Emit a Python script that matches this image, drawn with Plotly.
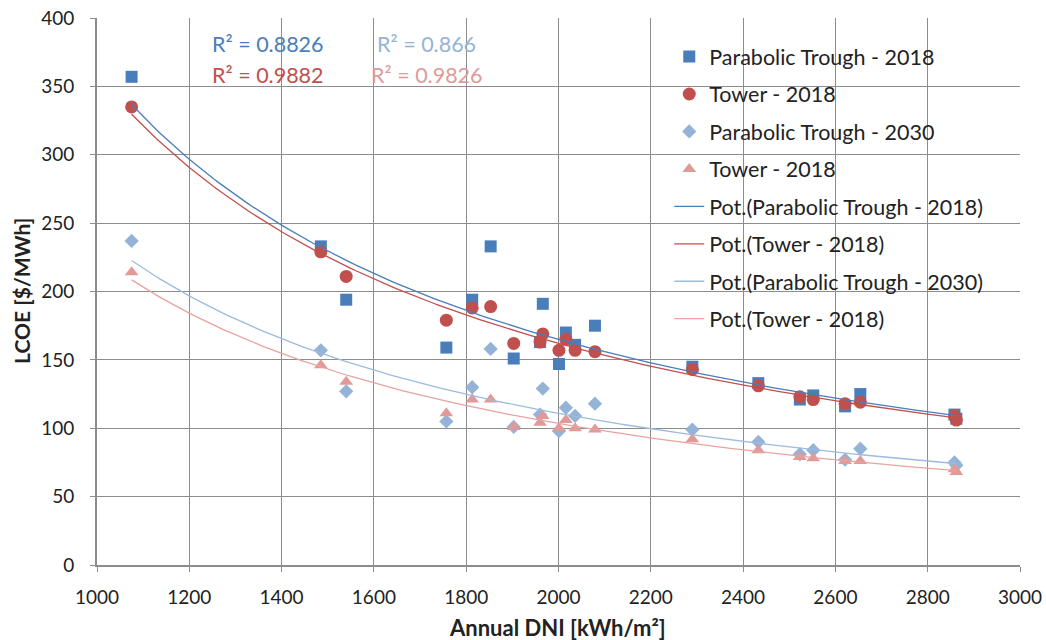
import numpy as np
import plotly.graph_objects as go

dni = [1075, 1485, 1540, 1757, 1813, 1853, 1903, 1960, 1966, 2001, 2016, 2036, 2079,
       2290, 2433, 2523, 2552, 2621, 2654, 2858, 2862]
pt_2018 = [357, 233, 194, 159, 194, 233, 151, 163, 191, 147, 170, 161, 175,
           145, 133, 121, 124, 116, 125, 110, 107]
tower_2018 = [335, 229, 211, 179, 188, 189, 162, 163, 169, 157, 165, 157, 156,
              143, 131, 123, 121, 118, 119, 109, 106]
pt_2030 = [237, 157, 127, 105, 130, 158, 101, 110, 129, 98, 115, 109, 118,
           99, 90, 81, 84, 77, 85, 75, 73]
tower_2030 = [214, 146, 134, 111, 121, 121, 101, 104, 109, 100, 106, 100, 99,
              92, 84, 79, 78, 76, 76, 70, 68]

r2_labels = ["R² = 0.8826", "R² = 0.9882", "R² = 0.866", "R² = 0.9826"]
x_title = "<b>Annual DNI [kWh/m²]</b>"
y_title = "<b>LCOE [$/MWh]</b>"

series = [
    ("Parabolic Trough - 2018", pt_2018, "square", "#4a7ebb", 12),
    ("Tower - 2018", tower_2018, "circle", "#c0504d", 13),
    ("Parabolic Trough - 2030", pt_2030, "diamond", "#95b3d7", 11),
    ("Tower - 2018", tower_2030, "triangle-up", "#e09a98", 12),
]
trend_colors = ["#4a7ebb", "#c0504d", "#9dbbe0", "#e8a3a1"]

FONT = "Lato, Carlito, Calibri, sans-serif"
fig = go.Figure()

for i, (name, vals, sym, col, sz) in enumerate(series):
    fig.add_trace(go.Scatter(
        x=dni, y=vals, mode="markers", name=name,
        marker=dict(symbol=sym, color=col, size=sz, line=dict(width=0)),
        legendgroup=f"g{i}", legendrank=i))

x_arr = np.array(dni, dtype=float)
xs = np.linspace(x_arr.min(), x_arr.max(), 200)
for i, (name, vals, sym, col, sz) in enumerate(series):
    b, loga = np.polyfit(np.log(x_arr), np.log(np.array(vals, dtype=float)), 1)
    ys = np.exp(loga) * xs ** b
    fig.add_trace(go.Scatter(
        x=xs, y=ys, mode="lines", name=f"Pot.({name})",
        line=dict(color=trend_colors[i], width=1.3),
        legendgroup=f"h{i}", legendrank=10 + i))

ann_pos = [(0.185, 0.952), (0.185, 0.896), (0.357, 0.952), (0.357, 0.896)]
ann_cols = ["#4a7ebb", "#c0504d", "#95b3d7", "#e09a98"]
for (ax, ay), txt, c in zip(ann_pos, r2_labels, ann_cols):
    fig.add_annotation(x=ax, y=ay, xref="paper", yref="paper", text=txt,
                       showarrow=False, xanchor="center", yanchor="middle",
                       font=dict(family=FONT, size=21.5, color=c))

# axis titles
fig.add_annotation(x=0.4985, y=-0.1145, xref="paper", yref="paper", text=x_title,
                   showarrow=False, xanchor="center", yanchor="middle",
                   font=dict(family=FONT, size=22, color="#222222"))
fig.add_annotation(x=-0.0813, y=0.501, xref="paper", yref="paper", text=y_title,
                   showarrow=False, xanchor="center", yanchor="middle", textangle=-90,
                   font=dict(family=FONT, size=21, color="#222222"))

fig.update_layout(
    width=1046, height=640,
    margin=dict(l=97, r=26, t=18, b=75),
    paper_bgcolor="white", plot_bgcolor="white",
    font=dict(family=FONT, size=19, color="#222222"),
    legend=dict(x=0.62, y=0.967, xanchor="left", yanchor="top",
                bgcolor="rgba(0,0,0,0)", font=dict(family=FONT, size=21.5, color="#222222"),
                tracegroupgap=6.5, itemwidth=30),
    showlegend=True,
)
fig.update_xaxes(range=[1000, 3000], dtick=200, tick0=1000,
                 showgrid=True, gridcolor="#8c8c8c", gridwidth=1,
                 showline=True, linecolor="#8c8c8c", linewidth=2,
                 ticks="outside", ticklen=5, tickcolor="#8c8c8c",
                 zeroline=False, automargin=False, ticklabeloverflow="allow",
                 ticklabelstandoff=9)
fig.update_yaxes(range=[0, 400], dtick=50,
                 showgrid=True, gridcolor="#8c8c8c", gridwidth=1,
                 showline=True, linecolor="#8c8c8c", linewidth=2,
                 ticks="outside", ticklen=5, tickcolor="#8c8c8c",
                 zeroline=False, automargin=False, ticklabelstandoff=12,
                 ticklabeloverflow="allow")

fig.write_html("out.html", config={"displayModeBar": False},
               post_script="document.body.style.margin='0';document.body.style.overflow='hidden';")
